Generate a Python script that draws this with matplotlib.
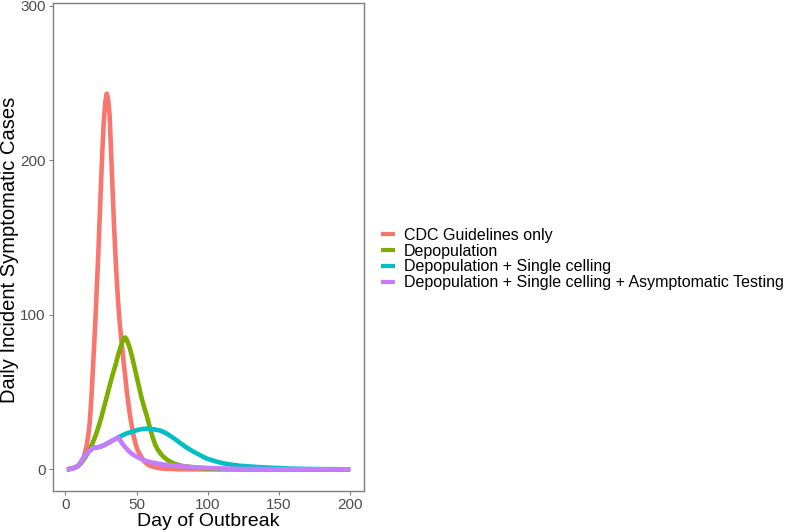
import matplotlib
matplotlib.use("Agg")
import matplotlib.pyplot as plt

plt.rcParams['font.family'] = ['Liberation Sans', 'DejaVu Sans']

# -------------------------------
# values
# -------------------------------
labels = ["CDC Guidelines only",
          "Depopulation",
          "Depopulation + Single celling",
          "Depopulation + Single celling + Asymptomatic Testing"]
colors = ["#F8766D", "#7CAE00", "#00BFC4", "#C77CFF"]

cdc_days = [1, 4, 7, 9, 11, 12, 13, 14, 15, 16, 17, 18, 19, 20, 21, 22, 23, 24, 25,
            26, 27, 28, 29, 30, 31, 32, 33, 34, 35, 36, 37, 38, 39, 40, 41, 42, 43,
            44, 45, 46, 47, 48, 50, 52, 54, 56, 58, 62, 66, 70, 80, 100, 150, 200]
cdc_cases = [0, 0.5, 1.3, 2.4, 4.3, 6, 8.5, 12, 16, 22, 30, 43, 60, 78, 96, 118, 138, 162, 186,
             208, 226, 238, 243, 239, 229, 206, 183, 160, 140, 123, 108, 96, 86, 77, 68, 60, 51,
             44, 37, 31, 26, 21, 14, 10, 7, 4.5, 3, 1.5, 0.8, 0.4, 0.1, 0, 0, 0]

depop_days = [1, 4, 7, 9, 11, 13, 15, 17, 19, 21, 23, 25, 27, 29, 31, 33, 35, 37, 39,
              41, 42, 43, 45, 47, 49, 51, 53, 55, 57, 59, 61, 63, 65, 67, 69, 72, 76,
              82, 88, 100, 110, 125, 200]
depop_cases = [0, 0.5, 1.3, 2.4, 4.2, 6.5, 9.5, 12.8, 17, 21.5, 27, 33, 40, 47, 54, 61, 67, 74, 80,
               85, 85.3, 84, 79, 72, 64, 56, 48, 41, 35, 28, 21.5, 16, 12.5, 10, 8, 5.8, 3.9,
               2.2, 1.5, 0.5, 0.2, 0.05, 0]

single_days = [1, 2, 5, 8, 10, 12, 13.5, 15, 17, 19, 20, 22, 25, 27, 29, 31, 33, 35, 37,
               40, 43, 47, 50, 53, 57, 62, 67, 71, 76, 81, 85, 90, 95, 99, 105, 111, 117,
               123, 135, 146, 158, 175, 200]
single_cases = [0, 0, 0.6, 1.7, 3.5, 6.5, 8.3, 10.3, 12, 13.6, 14.1, 14.2, 14.8, 15.6, 16.6, 17.6, 18.6, 19.6, 20.7,
                22, 23.3, 24.4, 25.3, 26, 26.4, 26, 25, 23.2, 20.2, 16.8, 14.2, 11.4, 9, 7.1, 5.3, 3.9, 3,
                2.3, 1.5, 1.0, 0.5, 0.2, 0.05]

asym_days = [1, 2, 5, 8, 10, 12, 13.5, 15, 17, 19, 20, 22, 25, 27, 29, 31, 33, 35, 37,
             38, 40, 42, 44, 46, 48, 50, 53, 56, 60, 65, 70, 76, 82, 90, 100, 110, 125, 150, 200]
asym_cases = [0, 0, 0.6, 1.7, 3.5, 6.5, 8.3, 10.3, 12, 13.6, 14.1, 14.2, 14.8, 15.6, 16.6, 17.6, 18.6, 19.6, 20.7,
              19.5, 16.5, 14.3, 12.3, 10.5, 9.2, 8.2, 6.8, 5.6, 4.6, 3.7, 3.0, 2.4, 2.0, 1.4, 0.9, 0.6, 0.3, 0.1, 0]

x_ticks = [0, 50, 100, 150, 200]
y_ticks = [0, 100, 200, 300]

# -------------------------------
# figure
# -------------------------------
fig = plt.figure(figsize=(7.87, 5.32), dpi=100)
ax = fig.add_axes([0.067, 0.077, 0.396, 0.917])

series = [(cdc_days, cdc_cases), (depop_days, depop_cases),
          (single_days, single_cases), (asym_days, asym_cases)]
for (d, c), lab, col in zip(series, labels, colors):
    ax.plot(d, c, color=col, lw=3.3, label=lab, solid_capstyle='butt')

ax.set_xlim(-8.95, 209.95)
ax.set_ylim(-14, 301.5)
ax.set_xticks(x_ticks)
ax.set_yticks(y_ticks)

for s in ax.spines.values():
    s.set_color('#7F7F7F')
    s.set_linewidth(1.0)
ax.tick_params(axis='both', colors='#7F7F7F', labelcolor='#4D4D4D',
               labelsize=11, length=3, width=0.8, pad=2)

ax.set_xlabel("Day of Outbreak", fontsize=14, labelpad=1)
ax.set_ylabel("Daily Incident Symptomatic Cases", fontsize=14.5)
ax.yaxis.set_label_coords(-0.107, 0.494)

leg = fig.legend(loc='center left', bbox_to_anchor=(0.476, 0.513), frameon=False,
                 fontsize=11.5, handlelength=0.85, handletextpad=0.6,
                 labelspacing=0.05, borderaxespad=0)
for h in leg.get_lines():
    h.set_linewidth(3)

fig.savefig("out.png", dpi=100)
